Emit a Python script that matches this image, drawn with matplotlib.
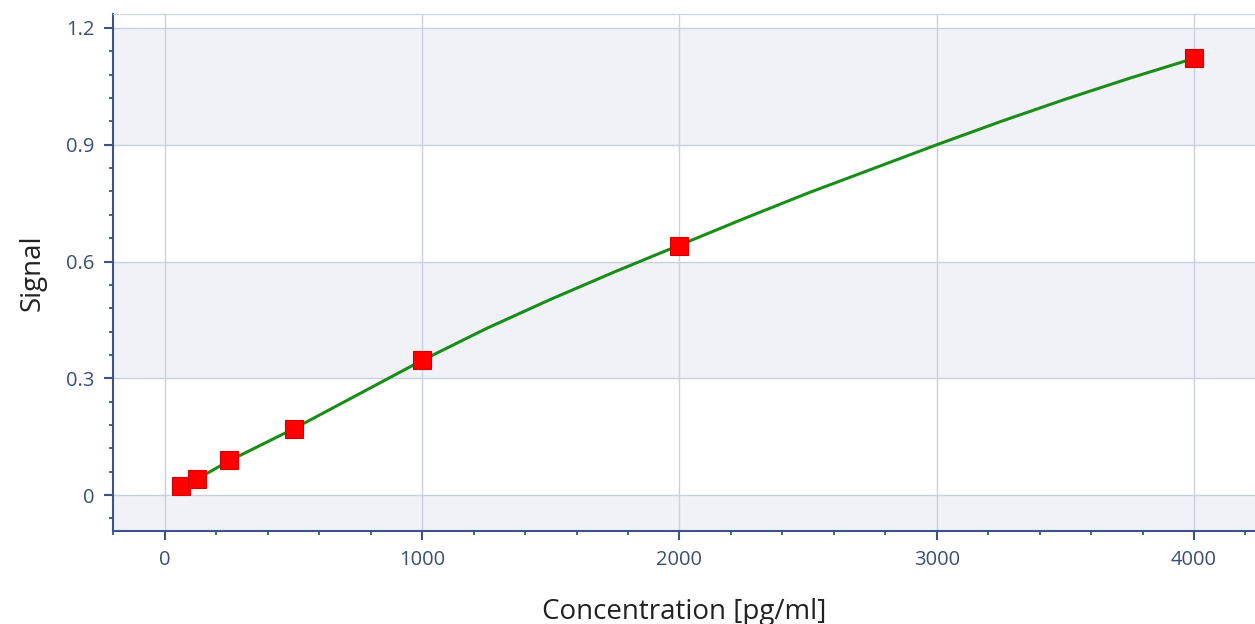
import matplotlib.pyplot as plt
from matplotlib.ticker import MultipleLocator

# standards (concentration in pg/ml, measured signal)
conc = [62.5, 125, 250, 500, 1000, 2000, 4000]
signal = [0.022, 0.041, 0.090, 0.170, 0.347, 0.640, 1.124]

# fitted curve
fit_conc = [62.5, 125, 250, 500, 750, 1000, 1250, 1500, 1750, 2000, 2250,
            2500, 2750, 3000, 3250, 3500, 3750, 4000]
fit_signal = [0.022, 0.041, 0.088, 0.170, 0.258, 0.346, 0.428, 0.503, 0.574,
              0.642, 0.710, 0.776, 0.838, 0.900, 0.960, 1.017, 1.071, 1.122]

x_ticks = [0, 1000, 2000, 3000, 4000]
y_ticks = [0, 0.3, 0.6, 0.9, 1.2]
y_tick_labels = ["0", "0.3", "0.6", "0.9", "1.2"]
bands = [(-0.3, 0.0), (0.3, 0.6), (0.9, 1.2)]

plt.rcParams["font.family"] = ["Open Sans", "DejaVu Sans"]

axis_col = "#3a5688"
grid_col = "#c9d1df"
band_col = "#f0f2f7"

fig = plt.figure(figsize=(12.55, 6.24), dpi=100)
ax = fig.add_axes([0.090, 0.149, 0.910, 0.8286])

ax.set_xlim(-202, 4237)
ax.set_ylim(-0.0925, 1.236)

for lo, hi in bands:
    ax.axhspan(lo, hi, color=band_col, zorder=0, lw=0)

ax.set_xticks(x_ticks)
ax.set_yticks(y_ticks)
ax.set_yticklabels(y_tick_labels)
ax.xaxis.set_minor_locator(MultipleLocator(200))
ax.yaxis.set_minor_locator(MultipleLocator(0.06))
ax.grid(True, which="major", color=grid_col, lw=1.0, zorder=1)
ax.set_axisbelow(True)

ax.plot(fit_conc, fit_signal, color="#1a8c1a", lw=2.2, zorder=3)
ax.plot(conc, signal, ls="none", marker="s", ms=12.5, color="#ff0000",
        mec="#d00000", mew=0.8, zorder=4)

for side in ["left", "bottom"]:
    ax.spines[side].set_color(axis_col)
    ax.spines[side].set_linewidth(1.5)
ax.spines["top"].set_color(grid_col)
ax.spines["right"].set_visible(False)

ax.tick_params(axis="both", which="major", color=axis_col, width=1.5,
               length=6.5, labelcolor="#3c4f73", labelsize=14.5, pad=7)
ax.tick_params(axis="both", which="minor", color=axis_col, width=1.3,
               length=3)

ax.set_xlabel("Concentration [pg/ml]", fontsize=20, color="#222222", labelpad=20)
ax.set_ylabel("Signal", fontsize=20, color="#222222", labelpad=14)

fig.savefig("out.png", dpi=100)
